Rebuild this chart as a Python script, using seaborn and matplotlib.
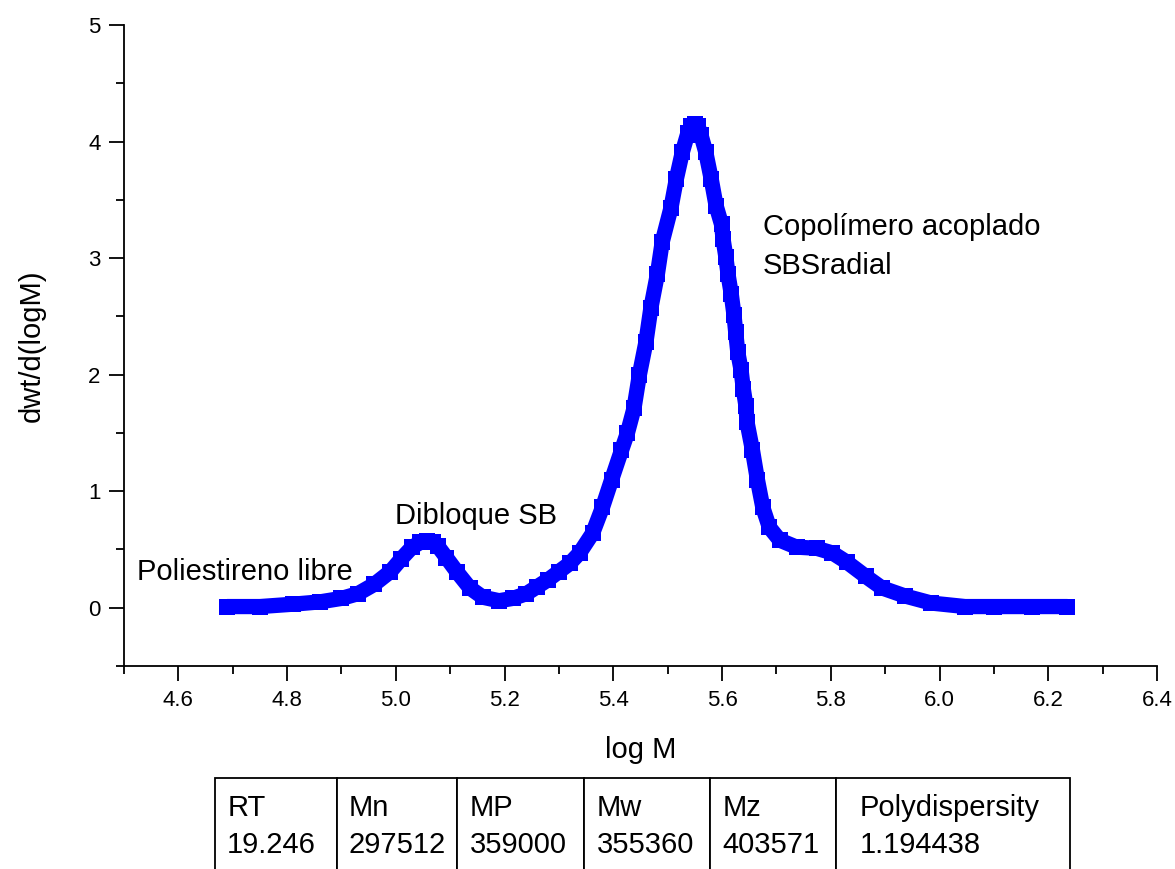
import numpy as np
import pandas as pd
import matplotlib
matplotlib.use("Agg")
import matplotlib.pyplot as plt
import seaborn as sns

# GPC trace (log M vs dwt/d(logM))
log_m = [4.69, 4.75, 4.81, 4.86, 4.90, 4.93, 4.96, 4.99, 5.01, 5.03,
         5.045, 5.057, 5.068, 5.077, 5.093, 5.112, 5.136, 5.16, 5.19, 5.215,
         5.24, 5.26, 5.28, 5.30, 5.32, 5.338, 5.362, 5.38, 5.397, 5.415,
         5.426, 5.438, 5.448, 5.460, 5.469, 5.481, 5.490, 5.506, 5.516, 5.527,
         5.537, 5.543, 5.550, 5.556, 5.561, 5.570, 5.580, 5.589, 5.599, 5.602,
         5.607, 5.611, 5.617, 5.622, 5.625, 5.629, 5.635, 5.639, 5.644, 5.646,
         5.656, 5.665, 5.675, 5.687, 5.706, 5.737, 5.774, 5.803, 5.83, 5.864,
         5.894, 5.937, 5.985, 6.047, 6.10, 6.17, 6.235]
dwt = [0.01, 0.01, 0.03, 0.05, 0.08, 0.12, 0.20, 0.31, 0.42, 0.52,
       0.56, 0.57, 0.56, 0.53, 0.43, 0.31, 0.17, 0.09, 0.06, 0.08,
       0.12, 0.18, 0.24, 0.31, 0.38, 0.47, 0.64, 0.86, 1.10, 1.35,
       1.50, 1.71, 2.00, 2.28, 2.57, 2.86, 3.14, 3.43, 3.68, 3.91,
       4.07, 4.13, 4.15, 4.13, 4.06, 3.91, 3.68, 3.45, 3.29, 3.16,
       3.01, 2.86, 2.69, 2.51, 2.37, 2.19, 2.04, 1.88, 1.73, 1.59,
       1.35, 1.10, 0.86, 0.69, 0.58, 0.52, 0.51, 0.47, 0.39, 0.27,
       0.17, 0.10, 0.04, 0.01, 0.01, 0.01, 0.01]

# summary table under the plot
table_headers = ["RT", "Mn", "MP", "Mw", "Mz", "Polydispersity"]
table_values = ["19.246", "297512", "359000", "355360", "403571", "1.194438"]

df = pd.DataFrame({"log M": log_m, "dwt": dwt})

sns.set_theme(style="ticks", rc={"text.color": "black",
                                 "axes.labelcolor": "black",
                                 "xtick.color": "black",
                                 "ytick.color": "black"})
plt.rcParams["font.family"] = ["Liberation Sans", "DejaVu Sans"]

fig = plt.figure(figsize=(11.75, 8.69), dpi=100)
ax = fig.add_axes([124 / 1175, 1 - 666 / 869, 1033 / 1175, 641 / 869])

sns.lineplot(data=df, x="log M", y="dwt", ax=ax, color="#0000ff",
             linewidth=11, marker="s", markersize=11, markeredgewidth=0,
             estimator=None, sort=False)

ax.set_xlim(4.5, 6.4)
ax.set_ylim(-0.5, 5)
ax.set_xticks(np.arange(4.6, 6.41, 0.2))
ax.set_xticks(np.arange(4.5, 6.41, 0.1), minor=True)
ax.set_xticklabels([f"{v:.1f}" for v in np.arange(4.6, 6.41, 0.2)])
ax.set_yticks([0, 1, 2, 3, 4, 5])
ax.set_yticks(np.arange(-0.5, 5.01, 0.5), minor=True)

for s in ["top", "right"]:
    ax.spines[s].set_visible(False)
for s in ["left", "bottom"]:
    ax.spines[s].set_linewidth(1.3)
    ax.spines[s].set_color("black")

ax.tick_params(which="major", direction="out", length=11, width=1.3,
               labelsize=16, colors="black", pad=6)
ax.tick_params(which="minor", direction="out", length=6, width=1.3,
               colors="black")

ax.set_xlabel("log M", fontsize=21, labelpad=18)
ax.set_ylabel("dwt/d(logM)", fontsize=21, labelpad=30)

ax.text(4.524, 0.31, "Poliestireno libre", fontsize=21, va="center", ha="left")
ax.text(4.998, 0.79, "Dibloque SB", fontsize=21, va="center", ha="left")
ax.text(5.675, 3.10, "Copolímero acoplado\nSBSradial", fontsize=21,
        va="center", ha="left", linespacing=1.5)

# table, partly below the figure edge as in the reference
col_px = [122, 120, 127, 126, 126, 234]
col_w = [w / sum(col_px) for w in col_px]
cells = [[f"{h}\n{v}" for h, v in zip(table_headers, table_values)]]
tab = ax.table(cellText=cells, colWidths=col_w, cellLoc="left",
               bbox=[(215 - 124) / 1033, -(875 - 666) / 641,
                     (1070 - 215) / 1033, (875 - 778) / 641])
tab.auto_set_font_size(False)
tab.set_fontsize(21)
for cell in tab.get_celld().values():
    cell.set_linewidth(1.3)
    cell.set_edgecolor("black")
    cell.get_text().set_linespacing(1.45)

fig.savefig("out.png", dpi=100)
